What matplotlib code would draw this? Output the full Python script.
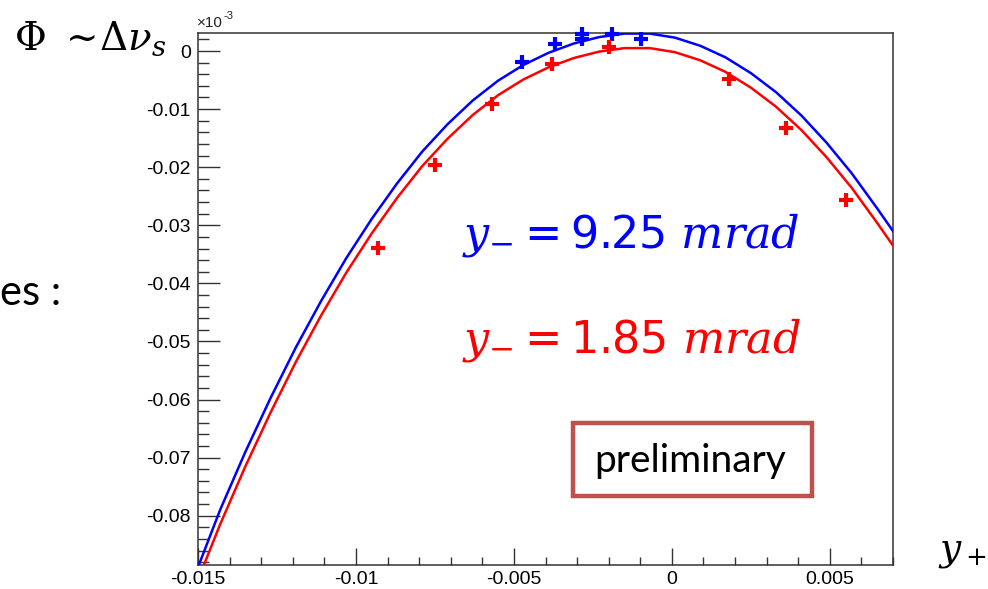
import matplotlib
matplotlib.use("Agg")
import matplotlib.pyplot as plt
from matplotlib.patches import Rectangle
from matplotlib.ticker import MultipleLocator, FixedLocator

plt.rcParams['axes.unicode_minus'] = False
plt.rcParams['mathtext.fontset'] = 'stix'
plt.rcParams['font.family'] = ['Liberation Sans', 'DejaVu Sans']

# ---- data (y in units of 1e-3) ----
red_x = [-0.0093, -0.0075, -0.0057, -0.0038, -0.0020, 0.0018, 0.0036, 0.0055]
red_y = [-0.0339, -0.0196, -0.0091, -0.0022, 0.0007, -0.0048, -0.0133, -0.0256]

blue_x = [-0.00475, -0.00371, -0.00285, -0.00285, -0.0019, -0.00098]
blue_y = [-0.0019, 0.0012, 0.0029, 0.0021, 0.0029, 0.0021]

blue_curve_x = [-0.01496, -0.0143, -0.0135, -0.0127, -0.0119, -0.0111, -0.0103, -0.0095,
                -0.0087, -0.0079, -0.0071, -0.0063, -0.0055, -0.0047, -0.0039, -0.0031,
                -0.0023, -0.0015, -0.0007, 0.0001, 0.0009, 0.0017, 0.0025, 0.0033,
                0.0041, 0.0049, 0.0057, 0.0065, 0.0070]
blue_curve_y = [-0.0883, -0.0790, -0.0690, -0.0597, -0.0510, -0.0430, -0.0356, -0.0289,
                -0.0228, -0.0173, -0.0126, -0.0085, -0.0051, -0.0024, -0.0003, 0.0013,
                0.0024, 0.0030, 0.0030, 0.0023, 0.0009, -0.0011, -0.0038, -0.0071,
                -0.0111, -0.0158, -0.0211, -0.0271, -0.0310]

red_curve_x = [-0.0148, -0.0143, -0.0135, -0.0127, -0.0119, -0.0111, -0.0103, -0.0095,
               -0.0087, -0.0079, -0.0071, -0.0063, -0.0055, -0.0047, -0.0039, -0.0031,
               -0.0023, -0.0015, -0.0007, 0.0001, 0.0009, 0.0017, 0.0025, 0.0033,
               0.0041, 0.0049, 0.0057, 0.0065, 0.0070]
red_curve_y = [-0.0883, -0.0815, -0.0715, -0.0622, -0.0535, -0.0455, -0.0381, -0.0314,
               -0.0253, -0.0198, -0.0151, -0.0110, -0.0076, -0.0049, -0.0028, -0.0012,
               -0.0001, 0.0005, 0.0005, -0.0002, -0.0016, -0.0036, -0.0063, -0.0096,
               -0.0136, -0.0183, -0.0236, -0.0296, -0.0335]

x_ticks = [-0.015, -0.01, -0.005, 0, 0.005]
x_tick_labels = ["-0.015", "-0.01", "-0.005", "0", "0.005"]
y_ticks = [0, -0.01, -0.02, -0.03, -0.04, -0.05, -0.06, -0.07, -0.08]
y_tick_labels = ["0", "-0.01", "-0.02", "-0.03", "-0.04", "-0.05", "-0.06", "-0.07", "-0.08"]

W, H = 988, 589
fig = plt.figure(figsize=(W / 100, H / 100), dpi=100)
fig.patch.set_facecolor('white')

def fx(px):
    return px / W

def fy(py):
    return 1 - py / H

ax = fig.add_axes([fx(198), fy(564.5), (893 - 198) / W, (564.5 - 33.3) / H])
ax.set_xlim(-0.015, 0.0070)
ax.set_ylim(-0.0884, 0.00305)

ax.plot(blue_curve_x, blue_curve_y, color='#0000ff', lw=1.8, zorder=3)
ax.plot(red_curve_x, red_curve_y, color='#ff0000', lw=1.8, zorder=3)
ax.plot(blue_x, blue_y, ls='none', marker='+', ms=9.5, mew=3.0, color='#0000ff', zorder=4, clip_on=False)
ax.plot(red_x, red_y, ls='none', marker='+', ms=9.5, mew=3.0, color='#ff0000', zorder=4)

for s in ax.spines.values():
    s.set_color('#333333')
    s.set_linewidth(1.1)

ax.xaxis.set_major_locator(FixedLocator(x_ticks))
ax.set_xticklabels(x_tick_labels)
ax.yaxis.set_major_locator(FixedLocator(y_ticks))
ax.set_yticklabels(y_tick_labels)
ax.xaxis.set_minor_locator(MultipleLocator(0.001))
ax.yaxis.set_minor_locator(MultipleLocator(0.002))
ax.tick_params(axis='x', which='major', direction='in', length=12, width=1.0,
               color='#333333', labelsize=14, pad=5, top=False)
ax.tick_params(axis='x', which='minor', direction='in', length=6, width=1.0,
               color='#333333', top=False)
ax.tick_params(axis='y', which='major', direction='in', length=16, width=1.0,
               color='#333333', labelsize=14, pad=5, right=False)
ax.tick_params(axis='y', which='minor', direction='in', length=8, width=1.0,
               color='#333333', right=False)

# exponent label
fig.text(fx(197), fy(30), '×10', fontsize=11, color='#222222', ha='left', va='bottom')
fig.text(fx(223), fy(21), '-3', fontsize=8, color='#222222', ha='left', va='bottom')

# title and axis label
fig.text(fx(14), fy(39), r'$\Phi\ \sim\!\Delta\nu_s$', fontsize=28,
         math_fontfamily='dejavuserif', ha='left', va='center')
fig.text(fx(938), fy(552), r'$y_+$', fontsize=27, math_fontfamily='dejavuserif',
         ha='left', va='center')

# legend-like texts
fig.text(fx(462), fy(235), r'$y_{-}=\mathsf{9.25}\ mrad$', fontsize=32, color='#0000ff',
         math_fontfamily='dejavuserif', ha='left', va='center')
fig.text(fx(462), fy(340), r'$y_{-}=\mathsf{1.85}\ mrad$', fontsize=32, color='#ff0000',
         math_fontfamily='dejavuserif', ha='left', va='center')

# preliminary box
fig.patches.append(Rectangle((fx(573), fy(496)), (812 - 573) / W, (496 - 423) / H,
                             transform=fig.transFigure, fill=True, facecolor='white',
                             edgecolor='#c0504d', lw=3.2, zorder=5))
fig.text(fx(690), fy(461), 'preliminary', fontsize=28, family=['Lato', 'DejaVu Sans'],
         ha='center', va='center', zorder=6)

# cut-off text on the left
fig.text(fx(0), fy(293), 'es :', fontsize=30, family=['Lato', 'DejaVu Sans'],
         ha='left', va='center')

fig.savefig('out.png', dpi=100, facecolor='white')
